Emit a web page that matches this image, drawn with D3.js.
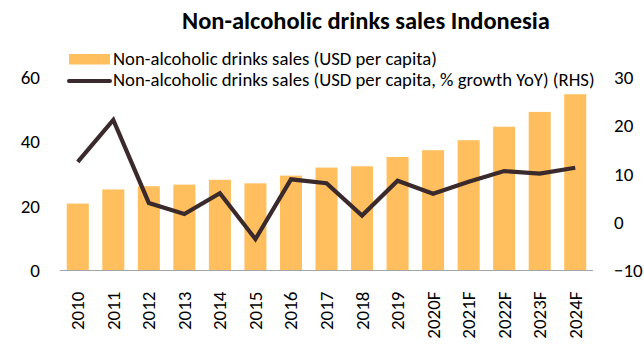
<!DOCTYPE html>
<html>
<head>
<meta charset="utf-8">
<script src="https://cdn.jsdelivr.net/npm/d3@7"></script>
<style>
  html, body { margin: 0; padding: 0; background: #fff; }
  svg { display: block; font-family: Carlito, Lato, "Open Sans", sans-serif; }
</style>
</head>
<body>
<svg id="chart" width="644" height="346"></svg>
<script>
// Non-alcoholic drinks sales per capita, Indonesia
const years = ["2010","2011","2012","2013","2014","2015","2016","2017","2018","2019","2020F","2021F","2022F","2023F","2024F"];
const salesUsd = [20.8, 25.2, 26.2, 26.7, 28.2, 27.1, 29.5, 32.0, 32.4, 35.3, 37.4, 40.5, 44.7, 49.3, 54.8];
const growthYoY = [12.5, 21.2, 4.0, 1.7, 6.0, -3.5, 8.9, 8.1, 1.4, 8.6, 5.9, 8.4, 10.6, 10.1, 11.3];
const leftTicks = [0, 20, 40, 60];
const rightTicks = [-10, 0, 10, 20, 30];
const titleText = "Non-alcoholic drinks sales Indonesia";
const legendBars = "Non-alcoholic drinks sales (USD per capita)";
const legendLine = "Non-alcoholic drinks sales (USD per capita, % growth YoY) (RHS)";

const svg = d3.select("#chart");
const plotLeft = 60, plotRight = 593, plotTop = 77.5, plotBottom = 270.5;

const x = d3.scaleBand().domain(years).range([plotLeft, plotRight]).paddingInner(0.38).paddingOuter(0.19);
const yL = d3.scaleLinear().domain([0, 60]).range([plotBottom, plotTop]);
const yR = d3.scaleLinear().domain([-10, 30]).range([plotBottom, plotTop]);

const barColor = "#FFBF5E";
const lineColor = "#3A2A2B";

// bars
svg.append("g").selectAll("rect").data(years).join("rect")
  .attr("x", d => x(d))
  .attr("width", x.bandwidth())
  .attr("y", (d, i) => yL(salesUsd[i]))
  .attr("height", (d, i) => yL(0) - yL(salesUsd[i]))
  .attr("fill", barColor);

// baseline
svg.append("line")
  .attr("x1", plotLeft).attr("x2", plotRight)
  .attr("y1", yL(0)).attr("y2", yL(0))
  .attr("stroke", "#A6A6A6").attr("stroke-width", 1.2);

// growth line
const line = d3.line()
  .x((d, i) => x(years[i]) + x.bandwidth() / 2)
  .y(d => yR(d));
svg.append("path").datum(growthYoY)
  .attr("d", line)
  .attr("fill", "none")
  .attr("stroke", lineColor)
  .attr("stroke-width", 4.2)
  .attr("stroke-linejoin", "miter");

// left axis
const axL = d3.axisLeft(yL).tickValues(leftTicks).tickSize(0).tickPadding(0);
const gL = svg.append("g").attr("transform", "translate(40,0)").call(axL);
gL.select(".domain").remove();
gL.selectAll("text").attr("font-size", 19).attr("fill", "#000").attr("font-family", "Carlito, Lato, sans-serif");

// right axis
const axR = d3.axisRight(yR).tickValues(rightTicks).tickSize(0).tickPadding(0);
const gR = svg.append("g").attr("transform", "translate(614,0)").call(axR);
gR.select(".domain").remove();
gR.selectAll("text").attr("font-size", 19).attr("fill", "#000").attr("font-family", "Carlito, Lato, sans-serif");

// x labels, rotated
const axX = d3.axisBottom(x).tickSize(0).tickPadding(0);
const gX = svg.append("g").attr("transform", `translate(0,${plotBottom})`).call(axX);
gX.select(".domain").remove();
const xLabels = gX.selectAll("text")
  .attr("font-size", 16).attr("fill", "#000")
  .attr("font-family", "Carlito, Lato, sans-serif")
  .attr("text-anchor", "end")
  .attr("dy", null)
  .attr("dominant-baseline", "central")
  .attr("transform", "translate(0,21) rotate(-90)")
  .attr("y", 0).attr("x", 0);
const yearLen = xLabels.node().getComputedTextLength();
xLabels.attr("font-size", 16 * 38.5 / yearLen);

// title
const title = svg.append("text")
  .attr("x", 366).attr("y", 29)
  .attr("text-anchor", "middle")
  .attr("font-weight", "bold")
  .attr("font-size", 19)
  .attr("fill", "#000")
  .text(titleText);
function fitWidth(sel, w) {
  const len = sel.node().getComputedTextLength();
  const fs = parseFloat(sel.attr("font-size"));
  sel.attr("font-size", fs * w / len);
}
fitWidth(title, 368);

// legend
const lg = svg.append("g");
lg.append("rect").attr("x", 69).attr("y", 54).attr("width", 41).attr("height", 10.5).attr("fill", barColor);
lg.append("line").attr("x1", 69).attr("x2", 110).attr("y1", 81).attr("y2", 81)
  .attr("stroke", lineColor).attr("stroke-width", 4).attr("stroke-linecap", "round");
const t1 = lg.append("text").attr("x", 113).attr("y", 64.5).attr("font-size", 15).attr("fill", "#000").text(legendBars);
const t2 = lg.append("text").attr("x", 113).attr("y", 86).attr("font-size", 15).attr("fill", "#000").text(legendLine);
const s2 = 482 / t2.node().getComputedTextLength();
t2.attr("font-size", 15 * s2);
t1.attr("font-size", 15 * s2);
</script>
</body>
</html>
